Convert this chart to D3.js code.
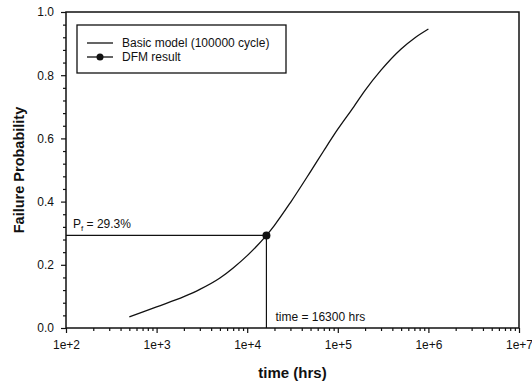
<!DOCTYPE html>
<html>
<head>
<meta charset="utf-8">
<script src="https://cdn.jsdelivr.net/npm/d3@7"></script>
<style>
  body { margin: 0; background: #fff; }
  svg text { font-family: Arial, "Liberation Sans", sans-serif; fill: #111; }
</style>
</head>
<body>
<div id="chart"></div>
<script>
// basic model curve (time in hrs, failure probability)
var modelTime = [500, 1000, 2000, 3000, 5000, 7000, 10000, 16300, 20000, 30000,
  50000, 70000, 100000, 150000, 200000, 300000, 500000, 700000, 1000000];
var modelProb = [0.035, 0.067, 0.099, 0.122, 0.158, 0.190, 0.229, 0.293, 0.325, 0.397,
  0.495, 0.561, 0.629, 0.700, 0.752, 0.816, 0.883, 0.917, 0.946];

// DFM result
var dfmTime = [16300];
var dfmProb = [0.293];

var xTickValues = [1e2, 1e3, 1e4, 1e5, 1e6, 1e7];
var xTickLabels = ["1e+2", "1e+3", "1e+4", "1e+5", "1e+6", "1e+7"];
var yTickValues = [0, 0.2, 0.4, 0.6, 0.8, 1.0];

var legendLabels = ["Basic model (100000 cycle)", "DFM result"];

// set the dimensions and margins of the graph
var margin = { top: 12, right: 13, bottom: 55, left: 66 },
  width = 532 - margin.left - margin.right,
  height = 383 - margin.top - margin.bottom;

var svg = d3.select("#chart")
  .append("svg")
  .attr("width", 532)
  .attr("height", 383)
  .append("g")
  .attr("transform", "translate(" + margin.left + "," + margin.top + ")");

var x = d3.scaleLog()
  .domain([1e2, 1e7])
  .range([0, width]);

var y = d3.scaleLinear()
  .domain([0, 1])
  .range([height, 0]);

// minor ticks
var xMinor = [];
for (var d = 2; d < 7; d++) {
  for (var m = 2; m <= 9; m++) xMinor.push(m * Math.pow(10, d));
}
var yMinor = d3.range(0, 1.0001, 0.04).filter(function (v) {
  return Math.abs(v * 5 - Math.round(v * 5)) > 1e-6;
});

svg.append("g")
  .attr("transform", "translate(0," + height + ")")
  .call(d3.axisBottom(x).tickValues(xMinor).tickSize(3).tickFormat("").tickSizeOuter(0))
  .call(function (g) { g.select(".domain").remove(); });

svg.append("g")
  .call(d3.axisLeft(y).tickValues(yMinor).tickSize(3).tickFormat("").tickSizeOuter(0))
  .call(function (g) { g.select(".domain").remove(); });

// X axis
svg.append("g")
  .attr("transform", "translate(0," + height + ")")
  .call(d3.axisBottom(x)
    .tickValues(xTickValues)
    .tickFormat(function (d, i) { return xTickLabels[i]; })
    .tickSize(5)
    .tickPadding(7)
    .tickSizeOuter(0))
  .call(function (g) {
    g.select(".domain").remove();
    g.selectAll("text").attr("font-size", 12);
  });

// Y axis
svg.append("g")
  .call(d3.axisLeft(y)
    .tickValues(yTickValues)
    .tickFormat(d3.format(".1f"))
    .tickSize(5)
    .tickPadding(7)
    .tickSizeOuter(0))
  .call(function (g) {
    g.select(".domain").remove();
    g.selectAll("text").attr("font-size", 12);
  });

svg.selectAll(".tick line").attr("stroke", "#111").attr("stroke-width", 1.2);

// frame
svg.append("rect")
  .attr("width", width)
  .attr("height", height)
  .attr("fill", "none")
  .attr("stroke", "#111")
  .attr("stroke-width", 1.5);

// guide lines to the DFM point
svg.append("line")
  .attr("x1", 0)
  .attr("x2", x(dfmTime[0]))
  .attr("y1", y(dfmProb[0]))
  .attr("y2", y(dfmProb[0]))
  .attr("stroke", "#111")
  .attr("stroke-width", 1.2);

svg.append("line")
  .attr("x1", x(dfmTime[0]))
  .attr("x2", x(dfmTime[0]))
  .attr("y1", y(dfmProb[0]))
  .attr("y2", height)
  .attr("stroke", "#111")
  .attr("stroke-width", 1.2);

// model curve
var line = d3.line()
  .x(function (d, i) { return x(modelTime[i]); })
  .y(function (d, i) { return y(modelProb[i]); })
  .curve(d3.curveMonotoneX);

svg.append("path")
  .datum(modelTime)
  .attr("d", line)
  .attr("fill", "none")
  .attr("stroke", "#111")
  .attr("stroke-width", 1.3);

// DFM dot
svg.selectAll(".dfm")
  .data(dfmTime)
  .enter()
  .append("circle")
  .attr("class", "dfm")
  .attr("cx", function (d) { return x(d); })
  .attr("cy", function (d, i) { return y(dfmProb[i]); })
  .attr("r", 4)
  .attr("fill", "#111");

// annotations
var pLabel = svg.append("text")
  .attr("x", 7)
  .attr("y", y(dfmProb[0]) - 7)
  .attr("font-size", 12);
pLabel.append("tspan").text("P");
pLabel.append("tspan").attr("font-size", 8).attr("dy", 3).text("f");
pLabel.append("tspan").attr("dy", -3).text(" = 29.3%");

svg.append("text")
  .attr("x", x(dfmTime[0]) + 9)
  .attr("y", height - 7)
  .attr("font-size", 12)
  .text("time = " + dfmTime[0] + " hrs");

// legend
var legend = svg.append("g")
  .attr("transform", "translate(11,13)");

legend.append("rect")
  .attr("width", 209)
  .attr("height", 48)
  .attr("fill", "#fff")
  .attr("stroke", "#111")
  .attr("stroke-width", 1.3);

legendLabels.forEach(function (label, i) {
  var ly = 18 + i * 14;
  legend.append("line")
    .attr("x1", 10).attr("x2", 36)
    .attr("y1", ly).attr("y2", ly)
    .attr("stroke", "#111")
    .attr("stroke-width", 1.3);
  if (i === 1) {
    legend.append("circle")
      .attr("cx", 23).attr("cy", ly)
      .attr("r", 3.5)
      .attr("fill", "#111");
  }
  legend.append("text")
    .attr("x", 45)
    .attr("y", ly)
    .attr("dy", "0.35em")
    .attr("font-size", 12)
    .text(label);
});

// axis titles
svg.append("text")
  .attr("x", width / 2)
  .attr("y", height + 50)
  .attr("text-anchor", "middle")
  .attr("font-size", 15)
  .attr("font-weight", "bold")
  .text("time (hrs)");

svg.append("text")
  .attr("transform", "rotate(-90)")
  .attr("x", -height / 2)
  .attr("y", -42)
  .attr("text-anchor", "middle")
  .attr("font-size", 14.5)
  .attr("font-weight", "bold")
  .text("Failure Probability");
</script>
</body>
</html>
